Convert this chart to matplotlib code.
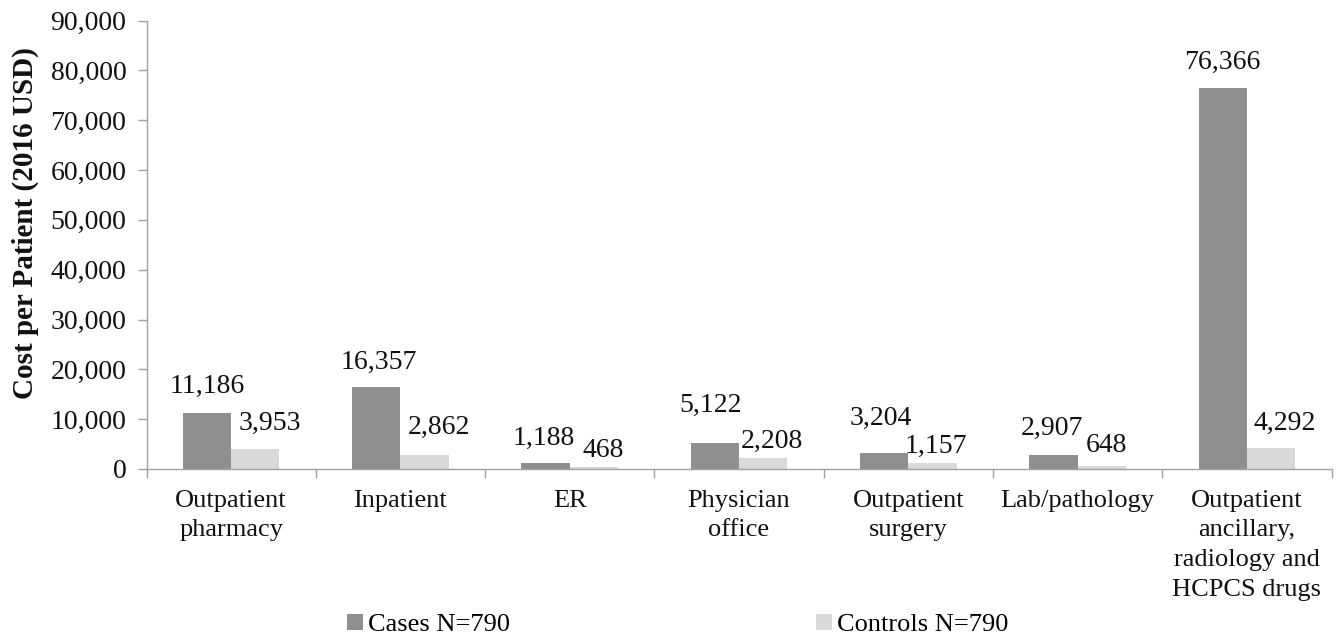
import matplotlib
matplotlib.use("Agg")
import matplotlib.pyplot as plt
from matplotlib.patches import Patch
from matplotlib.ticker import FuncFormatter, MultipleLocator
import numpy as np

# Data: mean cost per patient by service category (2016 USD)
categories = [
    "Outpatient\npharmacy",
    "Inpatient",
    "ER",
    "Physician\noffice",
    "Outpatient\nsurgery",
    "Lab/pathology",
    "Outpatient\nancillary,\nradiology and\nHCPCS drugs",
]
cases = [11186, 16357, 1188, 5122, 3204, 2907, 76366]
controls = [3953, 2862, 468, 2208, 1157, 648, 4292]
series_labels = ["Cases N=790", "Controls N=790"]

# Styling
CASE_COLOR = "#8f8f8f"
CTRL_COLOR = "#d9d9d9"
AXIS_COLOR = "#a0a0a0"
TEXT_COLOR = "#111111"
SERIF = ["Liberation Serif", "DejaVu Serif"]
PX = 0.72  # points per pixel at 100 dpi

# label placement tweaks (pixels): vertical gap above bar, horizontal shift
case_gap = [20, 19, 18, 32, 28, 20, 20]
case_dx = [0, 2, -2, -4, -3, -2, 0]
ctrl_gap = [19, 21, 10, 10, 10, 14, 18]
ctrl_dx = [15, 14, 9, 9, 3, 5, 14]

plt.rcParams["font.family"] = SERIF

fig = plt.figure(figsize=(13.38, 6.38), dpi=100)
ax = fig.add_axes([146.5 / 1338, 1 - 469 / 638, (1331.5 - 146.5) / 1338, (469 - 20.5) / 638])

x = np.arange(len(categories))
w = 0.285
ax.bar(x - w / 2, cases, width=w, color=CASE_COLOR, linewidth=0, zorder=2)
ax.bar(x + w / 2, controls, width=w, color=CTRL_COLOR, linewidth=0, zorder=2)

for i, v in enumerate(cases):
    ax.annotate(f"{v:,}", (x[i] - w / 2, v), xytext=(case_dx[i] * PX, case_gap[i] * PX),
                textcoords="offset points", ha="center", va="baseline",
                fontsize=20, color=TEXT_COLOR)
for i, v in enumerate(controls):
    ax.annotate(f"{v:,}", (x[i] + w / 2, v), xytext=(ctrl_dx[i] * PX, ctrl_gap[i] * PX),
                textcoords="offset points", ha="center", va="baseline",
                fontsize=20, color=TEXT_COLOR)

ax.set_xlim(-0.5, len(categories) - 0.5)
ax.set_ylim(0, 90000)
ax.yaxis.set_major_locator(MultipleLocator(10000))
ax.yaxis.set_major_formatter(FuncFormatter(lambda v, p: f"{int(v):,}"))

# category labels at centres, tick marks at category boundaries
ax.set_xticks(x)
ax.set_xticklabels(categories, fontsize=19, color=TEXT_COLOR, linespacing=1.45)
ax.set_xticks(np.arange(-0.5, len(categories)), minor=True)
ax.tick_params(axis="x", which="major", length=0, pad=15)
ax.tick_params(axis="x", which="minor", length=6.5, width=1, color=AXIS_COLOR, direction="out")
ax.tick_params(axis="y", length=6.5, width=1, color=AXIS_COLOR, direction="out",
               labelsize=20, labelcolor=TEXT_COLOR, pad=8)

for s in ["top", "right"]:
    ax.spines[s].set_visible(False)
for s in ["left", "bottom"]:
    ax.spines[s].set_color(AXIS_COLOR)
    ax.spines[s].set_linewidth(1)

fig.text(25 / 1338, 1 - 223 / 638, "Cost per Patient (2016 USD)", rotation=90,
         ha="center", va="center", fontsize=21, fontweight="bold", color=TEXT_COLOR)

handles = [Patch(facecolor=CASE_COLOR, edgecolor="none"),
           Patch(facecolor=CTRL_COLOR, edgecolor="none")]
fig.legend(handles, series_labels, loc="center left",
           bbox_to_anchor=(347 / 1338, 1 - 625 / 638), ncol=2, frameon=False,
           fontsize=19, handlelength=0.6, handleheight=0.6, handletextpad=0.2,
           columnspacing=11.6, borderpad=0, borderaxespad=0)

fig.savefig("out.png", dpi=100)
